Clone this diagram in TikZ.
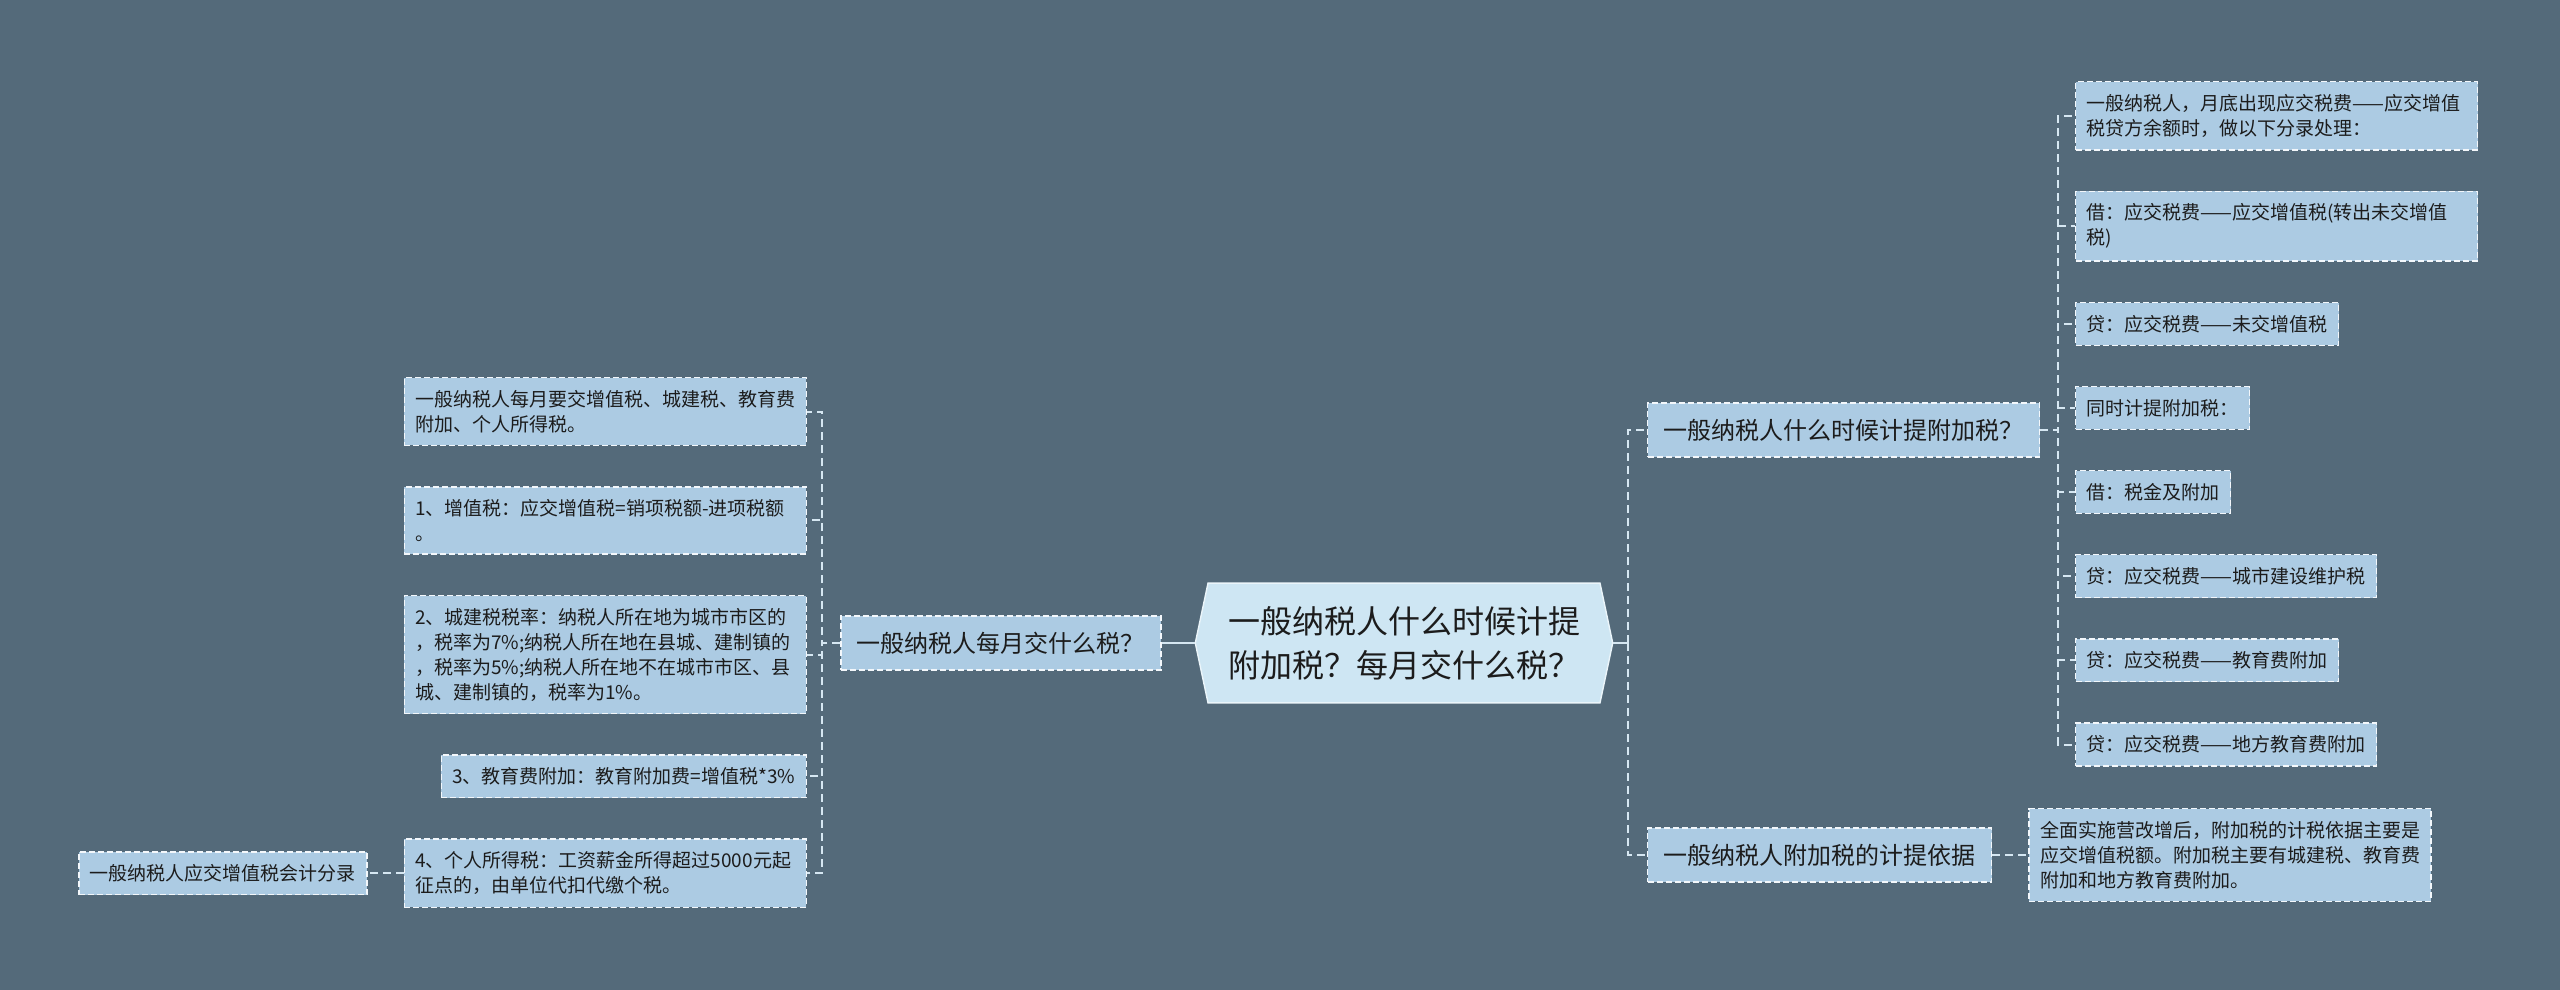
\documentclass[tikz,border=0pt]{standalone}
\usepackage{fontspec}
\setmainfont{Noto Sans CJK SC}
\usepackage{xcolor}
\usetikzlibrary{positioning,shapes.symbols}
\definecolor{slate}{RGB}{84,106,122}
\definecolor{leafblue}{RGB}{172,203,227}
\definecolor{rootblue}{RGB}{206,230,243}
\definecolor{wire}{RGB}{214,231,242}
\definecolor{ink}{RGB}{28,28,28}

\begin{document}
\begin{tikzpicture}[x=1pt, y=-1pt,
    leaf/.style={rectangle, draw=white!85!leafblue, dash pattern=on 6pt off 3pt, line width=1.4pt, fill=leafblue, text=ink, inner xsep=11pt, inner ysep=12.5pt, align=left, font=\fontsize{19}{25}\selectfont},
    note/.style={leaf, text width=380pt},
    branch/.style={leaf, inner xsep=16pt, inner ysep=16pt, font=\fontsize{24}{30}\selectfont},
    root/.style={signal, signal to=west and east, signal pointer angle=156, draw=white!60!rootblue, line width=1.4pt, fill=rootblue, text=ink, inner xsep=20pt, inner ysep=23pt, align=left, font=\fontsize{32}{44}\selectfont},
    link/.style={draw=wire, line width=2pt, dash pattern=on 8pt off 5pt},
    trunk/.style={draw=wire, line width=2.5pt},
    node distance=40pt
]
\fill[slate] (0,0) rectangle (2560,990);
\useasboundingbox (0,0) rectangle (2560,990);

\node[root] (root) at (1404,643) {一般纳税人什么时候计提\\附加税？每月交什么税？};
\node[branch, left=33pt of root] (monthly) {一般纳税人每月交什么税？};
\node[branch, anchor=west] (when) at (1647,430) {一般纳税人什么时候计提附加税？};
\node[branch, anchor=west] (basis) at (1647,855) {一般纳税人附加税的计提依据};

\node[note, anchor=north east] (m1) at (807,377) {一般纳税人每月要交增值税、城建税、教育费\\附加、个人所得税。};
\node[note, below=of m1.south east, anchor=north east] (m2) {1、增值税：应交增值税=销项税额-进项税额\\。};
\node[note, below=of m2.south east, anchor=north east] (m3) {2、城建税税率：纳税人所在地为城市市区的\\，税率为7\%;纳税人所在地在县城、建制镇的\\，税率为5\%;纳税人所在地不在城市市区、县\\城、建制镇的，税率为1\%。};
\node[leaf, below=of m3.south east, anchor=north east] (m4) {3、教育费附加：教育附加费=增值税*3\%};
\node[note, below=of m4.south east, anchor=north east] (m5) {4、个人所得税：工资薪金所得超过5000元起\\征点的，由单位代扣代缴个税。};
\node[leaf, left=36pt of m5] (entry) {一般纳税人应交增值税会计分录};

\node[note, anchor=north west] (w1) at (2075,81) {一般纳税人，月底出现应交税费——应交增值\\税贷方余额时，做以下分录处理：};
\node[note, below=of w1.south west, anchor=north west] (w2) {借：应交税费——应交增值税(转出未交增值\\税)};
\node[leaf, below=of w2.south west, anchor=north west] (w3) {贷：应交税费——未交增值税};
\node[leaf, below=of w3.south west, anchor=north west] (w4) {同时计提附加税：};
\node[leaf, below=of w4.south west, anchor=north west] (w5) {借：税金及附加};
\node[leaf, below=of w5.south west, anchor=north west] (w6) {贷：应交税费——城市建设维护税};
\node[leaf, below=of w6.south west, anchor=north west] (w7) {贷：应交税费——教育费附加};
\node[leaf, below=of w7.south west, anchor=north west] (w8) {贷：应交税费——地方教育费附加};

\node[note, right=36pt of basis] (basisnote) {全面实施营改增后，附加税的计税依据主要是\\应交增值税额。附加税主要有城建税、教育费\\附加和地方教育费附加。};

\draw[trunk] (root.west) -- (monthly.east);
\draw[trunk] (root.east) -- ++(15,0) coordinate (rj);
\draw[link] (rj) |- (when.west);
\draw[link] (rj) |- (basis.west);
\foreach \k in {1,...,5}
    \draw[link] (monthly.west) -- ++(-18,0) |- (m\k.east);
\foreach \k in {1,...,8}
    \draw[link] (when.east) -- ++(18,0) |- (w\k.west);
\draw[link] (m5.west) -- (entry.east);
\draw[link] (basis.east) -- (basisnote.west);

\end{tikzpicture}
\end{document}
